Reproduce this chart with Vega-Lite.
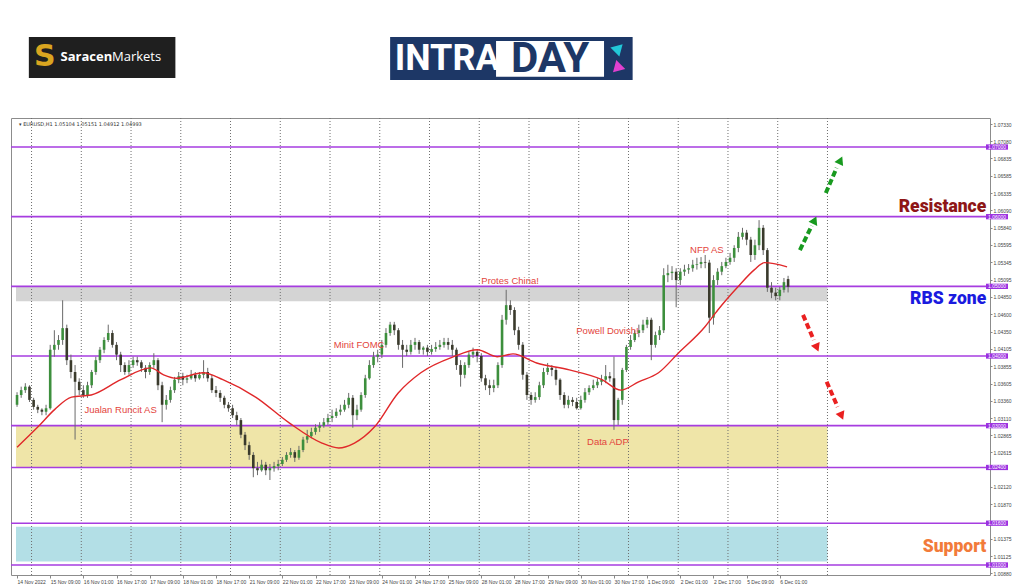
{
"$schema":"https://vega.github.io/schema/vega-lite/v6.json",
"width":979,"height":457,
"autosize":{"type":"none"},
"padding":{"left":11,"top":118,"right":34,"bottom":12},
"background":"white",
"config":{"view":{"stroke":"#8c8c8c","strokeWidth":1},"font":"Liberation Sans","axis":{"grid":false,"labelOverlap":false,"labelSeparation":0}},
"resolve":{"scale":{"color":"independent"}},
"datasets":{
"zones":[{"z":"rbs","v0":1.05,"v1":1.04785},{"z":"demand","v0":1.03,"v1":1.024},{"z":"support","v0":1.0155,"v1":1.0105}],
"grid":[{"t":7},{"t":31},{"t":55},{"t":79},{"t":103},{"t":127},{"t":151},{"t":175},{"t":199},{"t":223},{"t":247},{"t":271},{"t":295},{"t":319},{"t":343},{"t":367},{"t":391}],
"levels":[{"v":1.07,"lab":"1.07000"},{"v":1.06,"lab":"1.06000"},{"v":1.05,"lab":"1.05000"},{"v":1.04,"lab":"1.04000"},{"v":1.03,"lab":"1.03000"},{"v":1.024,"lab":"1.02400"},{"v":1.016,"lab":"1.01600"},{"v":1.01,"lab":"1.01000"}],
"c":[
{"t":0,"o":1.033,"h":1.0348,"l":1.0327,"c":1.0344},
{"t":2,"o":1.0344,"h":1.0356,"l":1.034,"c":1.0351},
{"t":4,"o":1.0351,"h":1.0361,"l":1.0347,"c":1.0356},
{"t":6,"o":1.0356,"h":1.0358,"l":1.0334,"c":1.0337},
{"t":8,"o":1.0337,"h":1.034,"l":1.0323,"c":1.0327},
{"t":10,"o":1.0327,"h":1.033,"l":1.0318,"c":1.0323},
{"t":12,"o":1.0323,"h":1.0325,"l":1.0315,"c":1.032},
{"t":14,"o":1.032,"h":1.033,"l":1.0315,"c":1.0325},
{"t":16,"o":1.0325,"h":1.0416,"l":1.0323,"c":1.0409},
{"t":18,"o":1.0409,"h":1.0437,"l":1.0399,"c":1.0416},
{"t":20,"o":1.0416,"h":1.043,"l":1.0409,"c":1.0423},
{"t":22,"o":1.0423,"h":1.048,"l":1.0416,"c":1.044},
{"t":24,"o":1.044,"h":1.0445,"l":1.0387,"c":1.0394},
{"t":26,"o":1.0394,"h":1.0402,"l":1.0368,"c":1.0377},
{"t":28,"o":1.0377,"h":1.0387,"l":1.028,"c":1.0363},
{"t":30,"o":1.0363,"h":1.0368,"l":1.0344,"c":1.0351},
{"t":32,"o":1.0351,"h":1.0358,"l":1.034,"c":1.0344},
{"t":34,"o":1.0344,"h":1.0363,"l":1.034,"c":1.0358},
{"t":36,"o":1.0358,"h":1.038,"l":1.0354,"c":1.0377},
{"t":38,"o":1.0377,"h":1.0399,"l":1.0373,"c":1.0394},
{"t":40,"o":1.0394,"h":1.0413,"l":1.039,"c":1.0409},
{"t":42,"o":1.0409,"h":1.0427,"l":1.0404,"c":1.0423},
{"t":44,"o":1.0423,"h":1.0445,"l":1.042,"c":1.0433},
{"t":46,"o":1.0433,"h":1.0437,"l":1.0412,"c":1.0416},
{"t":48,"o":1.0416,"h":1.042,"l":1.0394,"c":1.0402},
{"t":50,"o":1.0402,"h":1.0406,"l":1.0377,"c":1.0387},
{"t":52,"o":1.0387,"h":1.0391,"l":1.0373,"c":1.0377},
{"t":54,"o":1.0377,"h":1.0394,"l":1.0373,"c":1.0387},
{"t":56,"o":1.0387,"h":1.0399,"l":1.0383,"c":1.0394},
{"t":58,"o":1.0394,"h":1.0399,"l":1.0386,"c":1.0391},
{"t":60,"o":1.0391,"h":1.0394,"l":1.0377,"c":1.0383},
{"t":62,"o":1.0383,"h":1.0387,"l":1.0368,"c":1.0377},
{"t":64,"o":1.0377,"h":1.0391,"l":1.0373,"c":1.0387},
{"t":66,"o":1.0387,"h":1.0404,"l":1.0383,"c":1.0394},
{"t":68,"o":1.0394,"h":1.0397,"l":1.0351,"c":1.0358},
{"t":70,"o":1.0358,"h":1.0363,"l":1.0305,"c":1.033},
{"t":72,"o":1.033,"h":1.0344,"l":1.0323,"c":1.0337},
{"t":74,"o":1.0337,"h":1.0356,"l":1.0333,"c":1.0351},
{"t":76,"o":1.0351,"h":1.037,"l":1.0347,"c":1.0366},
{"t":78,"o":1.0366,"h":1.0377,"l":1.0361,"c":1.0371},
{"t":80,"o":1.0371,"h":1.0376,"l":1.0358,"c":1.0366},
{"t":82,"o":1.0366,"h":1.0373,"l":1.0361,"c":1.0368},
{"t":84,"o":1.0368,"h":1.038,"l":1.0366,"c":1.0373},
{"t":86,"o":1.0373,"h":1.0377,"l":1.0363,"c":1.0368},
{"t":88,"o":1.0368,"h":1.0377,"l":1.0366,"c":1.0373},
{"t":90,"o":1.0373,"h":1.0394,"l":1.0368,"c":1.0377},
{"t":92,"o":1.0377,"h":1.0383,"l":1.0363,"c":1.0368},
{"t":94,"o":1.0368,"h":1.0373,"l":1.0347,"c":1.0351},
{"t":96,"o":1.0351,"h":1.0357,"l":1.0341,"c":1.0347},
{"t":98,"o":1.0347,"h":1.0351,"l":1.0334,"c":1.034},
{"t":100,"o":1.034,"h":1.0343,"l":1.0325,"c":1.033},
{"t":102,"o":1.033,"h":1.0334,"l":1.032,"c":1.0325},
{"t":104,"o":1.0325,"h":1.033,"l":1.0311,"c":1.0315},
{"t":106,"o":1.0315,"h":1.032,"l":1.0301,"c":1.0308},
{"t":108,"o":1.0308,"h":1.0311,"l":1.0282,"c":1.0287},
{"t":110,"o":1.0287,"h":1.0291,"l":1.0265,"c":1.0272},
{"t":112,"o":1.0272,"h":1.0277,"l":1.0251,"c":1.0258},
{"t":114,"o":1.0258,"h":1.0262,"l":1.0226,"c":1.0239},
{"t":116,"o":1.0239,"h":1.0248,"l":1.0229,"c":1.0236},
{"t":118,"o":1.0236,"h":1.0251,"l":1.0234,"c":1.0244},
{"t":120,"o":1.0244,"h":1.0248,"l":1.0229,"c":1.0236},
{"t":122,"o":1.0236,"h":1.0245,"l":1.0222,"c":1.0239},
{"t":124,"o":1.0239,"h":1.0248,"l":1.0234,"c":1.0242},
{"t":126,"o":1.0242,"h":1.0251,"l":1.0236,"c":1.0245},
{"t":128,"o":1.0245,"h":1.0255,"l":1.0242,"c":1.0251},
{"t":130,"o":1.0251,"h":1.0262,"l":1.0248,"c":1.0258},
{"t":132,"o":1.0258,"h":1.0268,"l":1.0254,"c":1.0262},
{"t":134,"o":1.0262,"h":1.0265,"l":1.0248,"c":1.0254},
{"t":136,"o":1.0254,"h":1.0271,"l":1.0251,"c":1.0265},
{"t":138,"o":1.0265,"h":1.0284,"l":1.0262,"c":1.028},
{"t":140,"o":1.028,"h":1.0294,"l":1.0275,"c":1.0285},
{"t":142,"o":1.0285,"h":1.0297,"l":1.0282,"c":1.0291},
{"t":144,"o":1.0291,"h":1.0302,"l":1.0287,"c":1.0297},
{"t":146,"o":1.0297,"h":1.0305,"l":1.0291,"c":1.03},
{"t":148,"o":1.03,"h":1.0311,"l":1.0297,"c":1.0305},
{"t":150,"o":1.0305,"h":1.0317,"l":1.0301,"c":1.0311},
{"t":152,"o":1.0311,"h":1.0323,"l":1.0305,"c":1.0314},
{"t":154,"o":1.0314,"h":1.0325,"l":1.0311,"c":1.032},
{"t":156,"o":1.032,"h":1.033,"l":1.0315,"c":1.0323},
{"t":158,"o":1.0323,"h":1.0337,"l":1.032,"c":1.033},
{"t":160,"o":1.033,"h":1.0347,"l":1.0325,"c":1.034},
{"t":162,"o":1.034,"h":1.0344,"l":1.0297,"c":1.0315},
{"t":164,"o":1.0315,"h":1.033,"l":1.0308,"c":1.0323},
{"t":166,"o":1.0323,"h":1.0348,"l":1.032,"c":1.0344},
{"t":168,"o":1.0344,"h":1.0373,"l":1.034,"c":1.0368},
{"t":170,"o":1.0368,"h":1.0394,"l":1.0366,"c":1.0387},
{"t":172,"o":1.0387,"h":1.0406,"l":1.0383,"c":1.0399},
{"t":174,"o":1.0399,"h":1.0409,"l":1.0391,"c":1.0402},
{"t":176,"o":1.0402,"h":1.0423,"l":1.0397,"c":1.0416},
{"t":178,"o":1.0416,"h":1.044,"l":1.0412,"c":1.0433},
{"t":180,"o":1.0433,"h":1.0449,"l":1.0429,"c":1.0445},
{"t":182,"o":1.0445,"h":1.0449,"l":1.043,"c":1.0437},
{"t":184,"o":1.0437,"h":1.044,"l":1.0409,"c":1.0416},
{"t":186,"o":1.0416,"h":1.0423,"l":1.0383,"c":1.0409},
{"t":188,"o":1.0409,"h":1.0416,"l":1.04,"c":1.0406},
{"t":190,"o":1.0406,"h":1.0423,"l":1.0402,"c":1.0416},
{"t":192,"o":1.0416,"h":1.0426,"l":1.0409,"c":1.042},
{"t":194,"o":1.042,"h":1.0423,"l":1.0403,"c":1.0409},
{"t":196,"o":1.0409,"h":1.0414,"l":1.0402,"c":1.0412},
{"t":198,"o":1.0412,"h":1.0416,"l":1.04,"c":1.0406},
{"t":200,"o":1.0406,"h":1.0416,"l":1.0402,"c":1.041},
{"t":202,"o":1.041,"h":1.042,"l":1.0406,"c":1.0413},
{"t":204,"o":1.0413,"h":1.0423,"l":1.0409,"c":1.0416},
{"t":206,"o":1.0416,"h":1.0426,"l":1.0412,"c":1.042},
{"t":208,"o":1.042,"h":1.0426,"l":1.0409,"c":1.0416},
{"t":210,"o":1.0416,"h":1.0423,"l":1.04,"c":1.0409},
{"t":212,"o":1.0409,"h":1.0412,"l":1.038,"c":1.0387},
{"t":214,"o":1.0387,"h":1.0394,"l":1.0356,"c":1.0373},
{"t":216,"o":1.0373,"h":1.0391,"l":1.0368,"c":1.0387},
{"t":218,"o":1.0387,"h":1.0406,"l":1.0383,"c":1.0402},
{"t":220,"o":1.0402,"h":1.0412,"l":1.0397,"c":1.0406},
{"t":222,"o":1.0406,"h":1.0409,"l":1.0391,"c":1.04},
{"t":224,"o":1.04,"h":1.0404,"l":1.0363,"c":1.0368},
{"t":226,"o":1.0368,"h":1.0373,"l":1.0351,"c":1.0358},
{"t":228,"o":1.0358,"h":1.0366,"l":1.0344,"c":1.0354},
{"t":230,"o":1.0354,"h":1.0366,"l":1.0348,"c":1.0358},
{"t":232,"o":1.0358,"h":1.0391,"l":1.0354,"c":1.0387},
{"t":234,"o":1.0387,"h":1.0459,"l":1.0383,"c":1.0452},
{"t":236,"o":1.0452,"h":1.0495,"l":1.0445,"c":1.0473},
{"t":238,"o":1.0473,"h":1.048,"l":1.0459,"c":1.0466},
{"t":240,"o":1.0466,"h":1.047,"l":1.043,"c":1.0437},
{"t":242,"o":1.0437,"h":1.0442,"l":1.0409,"c":1.0416},
{"t":244,"o":1.0416,"h":1.042,"l":1.0366,"c":1.0373},
{"t":246,"o":1.0373,"h":1.0377,"l":1.0337,"c":1.0344},
{"t":248,"o":1.0344,"h":1.0348,"l":1.033,"c":1.0337},
{"t":250,"o":1.0337,"h":1.0348,"l":1.0333,"c":1.0341},
{"t":252,"o":1.0341,"h":1.0363,"l":1.0337,"c":1.0358},
{"t":254,"o":1.0358,"h":1.0383,"l":1.0354,"c":1.0377},
{"t":256,"o":1.0377,"h":1.039,"l":1.0373,"c":1.0383},
{"t":258,"o":1.0383,"h":1.0387,"l":1.0371,"c":1.038},
{"t":260,"o":1.038,"h":1.0384,"l":1.0358,"c":1.0366},
{"t":262,"o":1.0366,"h":1.0368,"l":1.0337,"c":1.0344},
{"t":264,"o":1.0344,"h":1.0348,"l":1.0325,"c":1.033},
{"t":266,"o":1.033,"h":1.0343,"l":1.0325,"c":1.0337},
{"t":268,"o":1.0337,"h":1.0341,"l":1.0328,"c":1.0334},
{"t":270,"o":1.0334,"h":1.034,"l":1.0323,"c":1.0325},
{"t":272,"o":1.0325,"h":1.0343,"l":1.0323,"c":1.0337},
{"t":274,"o":1.0337,"h":1.0354,"l":1.0333,"c":1.0348},
{"t":276,"o":1.0348,"h":1.0358,"l":1.0344,"c":1.0354},
{"t":278,"o":1.0354,"h":1.0366,"l":1.0351,"c":1.0358},
{"t":280,"o":1.0358,"h":1.0368,"l":1.0354,"c":1.0363},
{"t":282,"o":1.0363,"h":1.0373,"l":1.0358,"c":1.0366},
{"t":284,"o":1.0366,"h":1.0387,"l":1.0361,"c":1.0371},
{"t":286,"o":1.0371,"h":1.0377,"l":1.0363,"c":1.0368},
{"t":288,"o":1.0368,"h":1.0399,"l":1.0294,"c":1.0308},
{"t":290,"o":1.0308,"h":1.034,"l":1.0301,"c":1.0337},
{"t":292,"o":1.0337,"h":1.0383,"l":1.033,"c":1.038},
{"t":294,"o":1.038,"h":1.0416,"l":1.0377,"c":1.0413},
{"t":296,"o":1.0413,"h":1.043,"l":1.0409,"c":1.0423},
{"t":298,"o":1.0423,"h":1.0437,"l":1.042,"c":1.0433},
{"t":300,"o":1.0433,"h":1.0445,"l":1.0427,"c":1.0437},
{"t":302,"o":1.0437,"h":1.0452,"l":1.0433,"c":1.0445},
{"t":304,"o":1.0445,"h":1.0456,"l":1.044,"c":1.0452},
{"t":306,"o":1.0452,"h":1.0455,"l":1.0394,"c":1.0416},
{"t":308,"o":1.0416,"h":1.0435,"l":1.0412,"c":1.043},
{"t":310,"o":1.043,"h":1.0443,"l":1.0423,"c":1.0437},
{"t":312,"o":1.0437,"h":1.0526,"l":1.0433,"c":1.0516},
{"t":314,"o":1.0516,"h":1.0531,"l":1.0506,"c":1.0519},
{"t":316,"o":1.0519,"h":1.0529,"l":1.0509,"c":1.0521},
{"t":318,"o":1.0521,"h":1.0526,"l":1.047,"c":1.0509},
{"t":320,"o":1.0509,"h":1.0526,"l":1.0502,"c":1.0521},
{"t":322,"o":1.0521,"h":1.0531,"l":1.0515,"c":1.0524},
{"t":324,"o":1.0524,"h":1.0532,"l":1.0518,"c":1.0526},
{"t":326,"o":1.0526,"h":1.0538,"l":1.0521,"c":1.0531},
{"t":328,"o":1.0531,"h":1.0541,"l":1.0524,"c":1.0532},
{"t":330,"o":1.0532,"h":1.0542,"l":1.0526,"c":1.0535},
{"t":332,"o":1.0535,"h":1.0545,"l":1.0526,"c":1.0534},
{"t":334,"o":1.0534,"h":1.0538,"l":1.0433,"c":1.0455},
{"t":336,"o":1.0455,"h":1.0516,"l":1.0445,"c":1.0509},
{"t":338,"o":1.0509,"h":1.0526,"l":1.0502,"c":1.0521},
{"t":340,"o":1.0521,"h":1.0535,"l":1.0516,"c":1.0529},
{"t":342,"o":1.0529,"h":1.0541,"l":1.0526,"c":1.0535},
{"t":344,"o":1.0535,"h":1.0548,"l":1.0531,"c":1.0541},
{"t":346,"o":1.0541,"h":1.0559,"l":1.0535,"c":1.0555},
{"t":348,"o":1.0555,"h":1.0578,"l":1.0549,"c":1.0571},
{"t":350,"o":1.0571,"h":1.0584,"l":1.0567,"c":1.0577},
{"t":352,"o":1.0577,"h":1.0581,"l":1.0559,"c":1.0567},
{"t":354,"o":1.0567,"h":1.0571,"l":1.0535,"c":1.0545},
{"t":356,"o":1.0545,"h":1.0567,"l":1.0538,"c":1.0559},
{"t":358,"o":1.0559,"h":1.0595,"l":1.0552,"c":1.0584},
{"t":360,"o":1.0584,"h":1.0588,"l":1.0545,"c":1.0552},
{"t":362,"o":1.0552,"h":1.0555,"l":1.0492,"c":1.0498},
{"t":364,"o":1.0498,"h":1.0506,"l":1.0483,"c":1.0491},
{"t":366,"o":1.0491,"h":1.0498,"l":1.048,"c":1.0486},
{"t":368,"o":1.0486,"h":1.0499,"l":1.048,"c":1.0495},
{"t":370,"o":1.0495,"h":1.0512,"l":1.0491,"c":1.0506},
{"t":372,"o":1.05104,"h":1.05151,"l":1.04912,"c":1.04993}
],
"ma":[{"t":0,"v":1.0269},{"t":10,"v":1.0298},{"t":18.1,"v":1.0323},{"t":26.3,"v":1.0341},{"t":35.8,"v":1.0344},{"t":50.1,"v":1.0366},{"t":64.5,"v":1.0383},{"t":70.7,"v":1.0373},{"t":76.9,"v":1.0368},{"t":89.8,"v":1.0376},{"t":99.3,"v":1.0366},{"t":115.1,"v":1.0341},{"t":131.3,"v":1.0304},{"t":147.1,"v":1.0275},{"t":155.2,"v":1.0268},{"t":162.8,"v":1.0275},{"t":172.4,"v":1.0298},{"t":183.9,"v":1.0347},{"t":194.8,"v":1.0376},{"t":210.6,"v":1.0399},{"t":222.1,"v":1.0409},{"t":231.6,"v":1.0399},{"t":239.3,"v":1.0403},{"t":250.7,"v":1.039},{"t":266.5,"v":1.038},{"t":282.2,"v":1.0366},{"t":291.3,"v":1.0351},{"t":299.9,"v":1.0363},{"t":309.5,"v":1.0376},{"t":319,"v":1.0404},{"t":331.9,"v":1.0442},{"t":338.1,"v":1.0466},{"t":347.7,"v":1.0499},{"t":355.8,"v":1.0524},{"t":360.6,"v":1.0534},{"t":371.5,"v":1.0528}],
"notes":[{"t":32.5,"v":1.0323,"label":"Jualan Runcit AS"},{"t":152.8,"v":1.0416,"label":"Minit FOMC"},{"t":224,"v":1.0508,"label":"Protes China!"},{"t":269.8,"v":1.0436,"label":"Powell Dovish!"},{"t":275,"v":1.0277,"label":"Data ADP"},{"t":324.7,"v":1.0552,"label":"NFP AS"}],
"big":[{"label":"Resistance","v":1.0614},{"label":"RBS zone","v":1.0482},{"label":"Support","v":1.0126}],
"arrows":[{"a":"g1","dir":"up","t":377.7,"v":1.0552},{"a":"g1","dir":"up","t":383.4,"v":1.0587},{"a":"g2","dir":"up","t":390.2,"v":1.0634},{"a":"g2","dir":"up","t":395.4,"v":1.067},{"a":"r1","dir":"down","t":379.2,"v":1.0459},{"a":"r1","dir":"down","t":384.4,"v":1.0423},{"a":"r2","dir":"down","t":390.6,"v":1.0363},{"a":"r2","dir":"down","t":395.9,"v":1.0327}],
"headsUp":[{"t":384.8,"v":1.0595},{"t":397.3,"v":1.0681}],
"headsDown":[{"t":385.9,"v":1.0412},{"t":397.8,"v":1.0314}],
"one":[{"lab":"▾ EURUSD,H1  1.05104 1.05151 1.04912 1.04993"}]
},
"layer":[
{"data":{"name":"zones"},"mark":{"type":"rect"},
 "encoding":{"x":{"datum":-0.5,"type":"quantitative","scale":{"domain":[-0.5,467],"nice":false,"zero":false},"title":null,
   "axis":{"orient":"bottom","title":null,"values":[0,16,32,48,64,80,96,112,128,144,160,176,192,208,224,240,256,272,288,304,320,336,352,368],"tickCount":60,
    "labelExpr":"['14 Nov 2022','15 Nov 09:00','16 Nov 01:00','16 Nov 17:00','17 Nov 09:00','18 Nov 01:00','18 Nov 17:00','21 Nov 09:00','22 Nov 01:00','22 Nov 17:00','23 Nov 09:00','24 Nov 01:00','24 Nov 17:00','25 Nov 09:00','28 Nov 01:00','28 Nov 17:00','29 Nov 09:00','30 Nov 01:00','30 Nov 17:00','1 Dec 09:00','2 Dec 01:00','2 Dec 17:00','5 Dec 09:00','6 Dec 01:00'][round(datum.value/16)]",
    "grid":false,"domain":false,"tickSize":3,"tickColor":"#888","labelFontSize":5,"labelColor":"#444","labelAlign":"left","labelPadding":1,"labelOverlap":false,"labelFlush":false,"labelBound":false}},
  "x2":{"datum":391},
  "y":{"field":"v0","type":"quantitative","scale":{"domain":[1.008565,1.074163],"nice":false,"zero":false},"title":null,
   "axis":{"orient":"right","title":null,"values":[1.0733,1.0708,1.06835,1.06585,1.06335,1.0609,1.0584,1.05595,1.05345,1.05095,1.0485,1.046,1.0435,1.04105,1.03855,1.03605,1.0336,1.0311,1.02865,1.02615,1.0212,1.0187,1.01375,1.01125,1.0088],"tickCount":60,
    "format":".5f","grid":false,"domain":false,"tickSize":2,"tickColor":"#888","labelFontSize":5,"labelColor":"#444","labelPadding":1,"labelOverlap":false,"labelSeparation":0,"labelFlush":false,"labelBound":false}},
  "y2":{"field":"v1"},
  "color":{"field":"z","type":"nominal","scale":{"domain":["rbs","demand","support"],"range":["#d4d4d4","#efe5a8","#b3dfe6"]},"legend":null}}},
{"data":{"name":"grid"},"mark":{"type":"rule","strokeDash":[1,2],"color":"#6f6f6f","strokeWidth":1},
 "encoding":{"x":{"field":"t","type":"quantitative","title":null}}},
{"data":{"name":"levels"},"mark":{"type":"rule","color":"#a63de0","strokeWidth":1.6},
 "encoding":{"y":{"field":"v","type":"quantitative","title":null}}},
{"data":{"name":"c"},"mark":{"type":"rule","color":"#6a6a6a","strokeWidth":1},
 "encoding":{"x":{"field":"t","type":"quantitative","title":null},"y":{"field":"l","type":"quantitative","title":null},"y2":{"field":"h"}}},
{"data":{"name":"c"},"mark":{"type":"bar","size":2.6},
 "encoding":{"x":{"field":"t","type":"quantitative","title":null},
  "y":{"field":"o","type":"quantitative","title":null,"scale":{"zero":false}},"y2":{"field":"c"},
  "color":{"condition":{"test":"datum.c >= datum.o","value":"#3d8f3d"},"value":"#3a3a2c"}}},
{"data":{"name":"ma"},"mark":{"type":"line","color":"#e0282a","strokeWidth":1.4,"interpolate":"monotone"},
 "encoding":{"x":{"field":"t","type":"quantitative","title":null},"y":{"field":"v","type":"quantitative","title":null}}},
{"data":{"name":"notes"},"mark":{"type":"text","align":"left","baseline":"middle","fontSize":9.5,"color":"#e3443c","font":"Liberation Sans"},
 "encoding":{"x":{"field":"t","type":"quantitative","title":null},"y":{"field":"v","type":"quantitative","title":null},"text":{"field":"label"}}},
{"data":{"name":"big"},"mark":{"type":"text","align":"right","baseline":"middle","fontSize":17.5,"fontWeight":900,"font":"Roboto"},
 "encoding":{"x":{"datum":467.6,"type":"quantitative"},"y":{"field":"v","type":"quantitative","title":null},"text":{"field":"label"},
  "color":{"field":"label","type":"nominal","scale":{"domain":["Resistance","RBS zone","Support"],"range":["#8e1616","#1a1adf","#f27b3a"]},"legend":null}}},
{"data":{"name":"arrows"},"mark":{"type":"line","strokeWidth":4,"strokeDash":[6,3],"strokeCap":"butt"},
 "encoding":{"x":{"field":"t","type":"quantitative","title":null},"y":{"field":"v","type":"quantitative","title":null},"detail":{"field":"a"},
  "color":{"field":"dir","type":"nominal","scale":{"domain":["up","down"],"range":["#189a1f","#ea2020"]},"legend":null}}},
{"data":{"name":"headsUp"},"mark":{"type":"point","shape":"triangle-up","angle":25,"size":90,"filled":true,"opacity":1,"color":"#189a1f"},
 "encoding":{"x":{"field":"t","type":"quantitative","title":null},"y":{"field":"v","type":"quantitative","title":null}}},
{"data":{"name":"headsDown"},"mark":{"type":"point","shape":"triangle-up","angle":157,"size":90,"filled":true,"opacity":1,"color":"#ea2020"},
 "encoding":{"x":{"field":"t","type":"quantitative","title":null},"y":{"field":"v","type":"quantitative","title":null}}},
{"data":{"name":"levels"},"mark":{"type":"point","shape":"M-1,-0.24L1,-0.24L1,0.24L-1,0.24Z","size":484,"filled":true,"opacity":1,"color":"#9b30e0"},
 "encoding":{"x":{"datum":472.8,"type":"quantitative"},"y":{"field":"v","type":"quantitative","title":null}}},
{"data":{"name":"levels"},"mark":{"type":"text","fontSize":5,"color":"white","align":"center","baseline":"middle"},
 "encoding":{"x":{"datum":472.8,"type":"quantitative"},"y":{"field":"v","type":"quantitative","title":null},"text":{"field":"lab"}}},
{"data":{"name":"one"},"mark":{"type":"text","fontSize":5,"color":"#333","align":"left","baseline":"middle","font":"DejaVu Sans"},
 "encoding":{"x":{"datum":1,"type":"quantitative"},"y":{"datum":1.0733,"type":"quantitative"},"text":{"field":"lab"}}},
{"data":{"values":[{}]},"mark":{"type":"rect","color":"#1f1f1f"},
 "encoding":{"x":{"datum":5.7,"type":"quantitative"},"x2":{"datum":76.4},"y":{"datum":1.0858,"type":"quantitative"},"y2":{"datum":1.0799}}},
{"data":{"values":[{"s":"S"}]},"mark":{"type":"text","fontSize":30,"fontWeight":"bold","color":"#d9a520","align":"center","baseline":"middle","font":"DejaVu Sans"},
 "encoding":{"x":{"datum":13.4,"type":"quantitative"},"y":{"datum":1.0829,"type":"quantitative"},"text":{"field":"s"}}},
{"data":{"values":[{"s":"Saracen"}]},"mark":{"type":"text","fontSize":13,"fontWeight":"bold","color":"white","align":"left","baseline":"middle","font":"Open Sans"},
 "encoding":{"x":{"datum":21,"type":"quantitative"},"y":{"datum":1.0829,"type":"quantitative"},"text":{"field":"s"}}},
{"data":{"values":[{"s":"Markets"}]},"mark":{"type":"text","fontSize":13,"color":"white","align":"left","baseline":"middle","font":"Open Sans"},
 "encoding":{"x":{"datum":45.8,"type":"quantitative"},"y":{"datum":1.0829,"type":"quantitative"},"text":{"field":"s"}}},
{"data":{"values":[{}]},"mark":{"type":"rect","color":"#1d3766"},
 "encoding":{"x":{"datum":180,"type":"quantitative"},"x2":{"datum":297},"y":{"datum":1.0858,"type":"quantitative"},"y2":{"datum":1.0796}}},
{"data":{"values":[{}]},"mark":{"type":"rect","color":"white"},
 "encoding":{"x":{"datum":231.1,"type":"quantitative"},"x2":{"datum":283.2},"y":{"datum":1.0852,"type":"quantitative"},"y2":{"datum":1.0801}}},
{"data":{"values":[{"s":"INTRA"}]},"mark":{"type":"text","fontSize":36,"fontWeight":"bold","color":"white","align":"left","baseline":"middle","font":"Roboto"},
 "encoding":{"x":{"datum":182.2,"type":"quantitative"},"y":{"datum":1.0826,"type":"quantitative"},"text":{"field":"s"}}},
{"data":{"values":[{"s":"DAY"}]},"mark":{"type":"text","fontSize":42,"fontWeight":"bold","color":"#1d3766","align":"center","baseline":"middle","font":"Roboto"},
 "encoding":{"x":{"datum":257.2,"type":"quantitative"},"y":{"datum":1.0826,"type":"quantitative"},"text":{"field":"s"}}},
{"data":{"values":[{}]},"mark":{"type":"point","shape":"triangle-up","angle":45,"size":160,"filled":true,"opacity":1,"color":"#22c8d8"},
 "encoding":{"x":{"datum":290.3,"type":"quantitative"},"y":{"datum":1.0842,"type":"quantitative"}}},
{"data":{"values":[{}]},"mark":{"type":"point","shape":"triangle-up","angle":225,"size":160,"filled":true,"opacity":1,"color":"#e040d0"},
 "encoding":{"x":{"datum":289.4,"type":"quantitative"},"y":{"datum":1.0813,"type":"quantitative"}}}
]
}
